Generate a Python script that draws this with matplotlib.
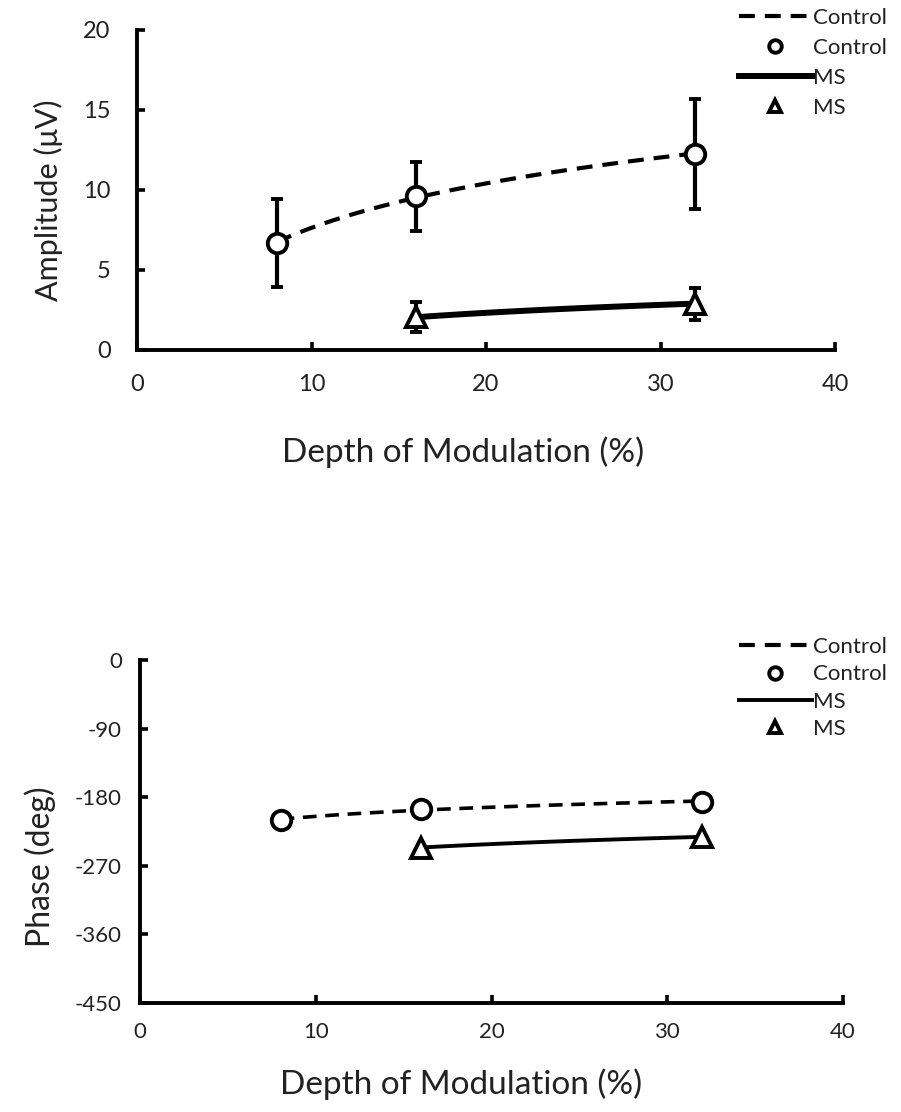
import numpy as np
import matplotlib.pyplot as plt
from matplotlib.lines import Line2D

plt.rcParams['font.family'] = ['Lato', 'DejaVu Sans']
plt.rcParams['axes.unicode_minus'] = False

# Depth of modulation (%)
control_depth = [8, 16, 32]
ms_depth = [16, 32]

# Amplitude (uV) with error bars
control_amp = [6.7, 9.6, 12.25]
control_amp_err = [2.75, 2.15, 3.45]
ms_amp = [2.05, 2.9]
ms_amp_err = [0.95, 1.0]

# Phase (deg)
control_phase = [-210, -195, -186]
ms_phase = [-246, -232]

xticks = [0, 10, 20, 30, 40]

DASH = (0, (3.8, 2.4))


def log_trend(x, y):
    # logarithmic trendline y = a*ln(x) + b
    a, b = np.polyfit(np.log(x), y, 1)
    xs = np.linspace(min(x), max(x), 100)
    return xs, a * np.log(xs) + b


def style_axes(ax, ypad, xpad, size):
    for s in ['top', 'right']:
        ax.spines[s].set_visible(False)
    for s in ['left', 'bottom']:
        ax.spines[s].set_linewidth(2.8)
    ax.tick_params(direction='in', length=6, width=2.6, labelsize=size,
                   color='black', labelcolor='#222222')
    ax.tick_params(axis='y', pad=ypad)
    ax.tick_params(axis='x', pad=xpad)
    ax.set_xlim(0, 40)
    ax.set_xticks(xticks)


def add_legend(ax, fig, y, lw_solid, spacing):
    handles = [
        Line2D([], [], color='black', ls=DASH, lw=3),
        Line2D([], [], color='black', ls='none', marker='o', mfc='white', mew=2.8, ms=9),
        Line2D([], [], color='black', ls='-', lw=lw_solid),
        Line2D([], [], color='black', ls='none', marker='^', mfc='white', mew=2.8, ms=9),
    ]
    labels = ['Control', 'Control', 'MS', 'MS']
    ax.legend(handles, labels, loc='upper left', bbox_to_anchor=(0.82, y),
              bbox_transform=fig.transFigure, frameon=False, fontsize=16,
              handlelength=3.3, handletextpad=0.05, labelspacing=spacing,
              borderaxespad=0, borderpad=0, labelcolor='#222222')


fig = plt.figure(figsize=(9.01, 11.12), dpi=100)

# Amplitude panel
ax1 = fig.add_axes([137 / 901, 1 - 350 / 1112, 698 / 901, 320 / 1112])
style_axes(ax1, 19, 17, 17)
xs, ys = log_trend(control_depth, control_amp)
ax1.plot(xs, ys, color='black', ls=DASH, lw=3)
xs, ys = log_trend(ms_depth, ms_amp)
ax1.plot(xs, ys, color='black', ls='-', lw=4.3)
ax1.errorbar(control_depth, control_amp, yerr=control_amp_err, fmt='o', color='black',
             mfc='white', mew=2.8, ms=14, elinewidth=3, capsize=4.5, capthick=3)
ax1.errorbar(ms_depth, ms_amp, yerr=ms_amp_err, fmt='^', color='black',
             mfc='white', mew=2.8, ms=14, elinewidth=3, capsize=4.5, capthick=3)
ax1.set_ylim(0, 20)
ax1.set_yticks([0, 5, 10, 15, 20])
ax1.set_ylabel('Amplitude (\u03bcV)', fontsize=22, color='#222222')
ax1.set_xlabel('Depth of Modulation (%)', fontsize=24, color='#222222')
ax1.xaxis.set_label_coords((463 - 137) / 698, -(436 - 350) / 320)
ax1.yaxis.set_label_coords(-(137 - 63) / 698, (350 - 200) / 320)
add_legend(ax1, fig, 1 - 8 / 1112, 4.3, 0.45)

# Phase panel
ax2 = fig.add_axes([140 / 901, 1 - 1003 / 1112, 703 / 901, 343 / 1112])
style_axes(ax2, 13, 14, 16)
xs, ys = log_trend(control_depth, control_phase)
ax2.plot(xs, ys, color='black', ls=DASH, lw=2.6)
xs, ys = log_trend(ms_depth, ms_phase)
ax2.plot(xs, ys, color='black', ls='-', lw=2.8)
ax2.plot(control_depth, control_phase, 'o', color='black', mfc='white', mew=2.8, ms=14)
ax2.plot(ms_depth, ms_phase, '^', color='black', mfc='white', mew=2.8, ms=14)
ax2.set_ylim(-450, 0)
ax2.set_yticks([0, -90, -180, -270, -360, -450])
ax2.set_ylabel('Phase (deg)', fontsize=23, color='#222222')
ax2.set_xlabel('Depth of Modulation (%)', fontsize=24, color='#222222')
ax2.xaxis.set_label_coords((461 - 140) / 703, -(1068 - 1003) / 343)
ax2.yaxis.set_label_coords(-(140 - 56) / 703, (1003 - 867) / 343)
add_legend(ax2, fig, 1 - 637 / 1112, 2.8, 0.33)

fig.savefig('out.png', dpi=100)
